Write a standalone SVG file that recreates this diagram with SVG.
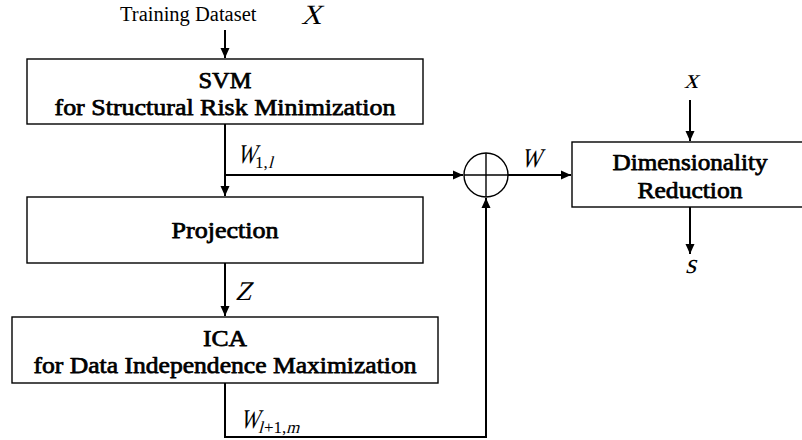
<svg xmlns="http://www.w3.org/2000/svg" width="802" height="440" viewBox="0 0 802 440">
<style>
.box{fill:#fff;stroke:#000;stroke-width:1.4}
.lbl{font-family:'Liberation Serif','Times New Roman',serif;font-size:24px;text-anchor:middle;fill:#000;stroke:#000;stroke-width:0.75;stroke-linejoin:round}
.reg{font-family:'Liberation Serif','Times New Roman',serif;fill:#000}
.sub{font-family:'Liberation Serif','Times New Roman',serif;fill:#000;font-size:17px}
.con{fill:none;stroke:#000;stroke-width:2}
.thin{fill:none;stroke:#000;stroke-width:1.4}
</style>
<defs>
<marker id="ah" markerUnits="userSpaceOnUse" markerWidth="10" markerHeight="10" viewBox="0 0 10 10" refX="10" refY="5" orient="auto">
<path d="M0,0.5 L10,5 L0,9.5 Z" fill="#000"/>
</marker>
</defs>
<g id="input">
<text class="reg" x="120" y="21" font-size="20.5">Training Dataset</text>
<text class="reg" transform="translate(301,24) skewX(-15)" font-size="28">X</text>
</g>
<g id="svm">
<rect class="box" x="27" y="59" width="396" height="65"/>
<text class="lbl" x="225" y="88" textLength="53" lengthAdjust="spacingAndGlyphs">SVM</text>
<text class="lbl" x="225" y="115" textLength="341" lengthAdjust="spacingAndGlyphs">for Structural Risk Minimization</text>
</g>
<g id="projection">
<rect class="box" x="27" y="197" width="396" height="66"/>
<text class="lbl" x="225" y="238" textLength="107" lengthAdjust="spacingAndGlyphs">Projection</text>
</g>
<g id="ica">
<rect class="box" x="12" y="317" width="426" height="66"/>
<text class="lbl" x="225" y="346" textLength="44" lengthAdjust="spacingAndGlyphs">ICA</text>
<text class="lbl" x="225" y="373" textLength="383" lengthAdjust="spacingAndGlyphs">for Data Independence Maximization</text>
</g>
<g id="sum">
<circle class="thin" cx="486" cy="175" r="22"/>
<line class="thin" x1="464" y1="175" x2="508" y2="175"/>
<line class="thin" x1="486" y1="153" x2="486" y2="197"/>
</g>
<g id="dimred">
<rect class="box" x="572" y="142" width="236" height="65"/>
<text class="lbl" x="690" y="170" textLength="155" lengthAdjust="spacingAndGlyphs">Dimensionality</text>
<text class="lbl" x="690" y="198" textLength="105" lengthAdjust="spacingAndGlyphs">Reduction</text>
</g>
<g id="connectors">
<line class="con" x1="225" y1="30" x2="225" y2="58" marker-end="url(#ah)"/>
<line class="con" x1="225" y1="124" x2="225" y2="196" marker-end="url(#ah)"/>
<line class="con" x1="225" y1="175" x2="463" y2="175" marker-end="url(#ah)"/>
<line class="con" x1="225" y1="263" x2="225" y2="316" marker-end="url(#ah)"/>
<polyline class="con" points="225,383 225,437 486,437 486,198" marker-end="url(#ah)"/>
<line class="con" x1="508" y1="175" x2="571" y2="175" marker-end="url(#ah)"/>
<line class="con" x1="690" y1="100" x2="690" y2="141" marker-end="url(#ah)"/>
<line class="con" x1="690" y1="207" x2="690" y2="254" marker-end="url(#ah)"/>
</g>
<g id="labels">
<text class="reg" transform="translate(237,163) skewX(-15)" font-size="27" textLength="19" lengthAdjust="spacingAndGlyphs">W</text>
<text class="sub" x="255" y="168">1,</text>
<text class="sub" transform="translate(268,168) skewX(-15)">l</text>
<text class="reg" transform="translate(235,300) skewX(-15)" font-size="27">Z</text>
<text class="reg" transform="translate(240,428) skewX(-15)" font-size="27" textLength="19" lengthAdjust="spacingAndGlyphs">W</text>
<text class="sub" transform="translate(258,433) skewX(-15)">l</text>
<text class="sub" x="264" y="433">+1,</text>
<text class="sub" transform="translate(286,433) skewX(-15)">m</text>
<text class="reg" transform="translate(521,167) skewX(-15)" font-size="27" textLength="20" lengthAdjust="spacingAndGlyphs">W</text>
<text class="reg" transform="translate(684,88) skewX(-15)" font-size="28">x</text>
<text class="reg" transform="translate(685,273) skewX(-15)" font-size="28">s</text>
</g>
</svg>
